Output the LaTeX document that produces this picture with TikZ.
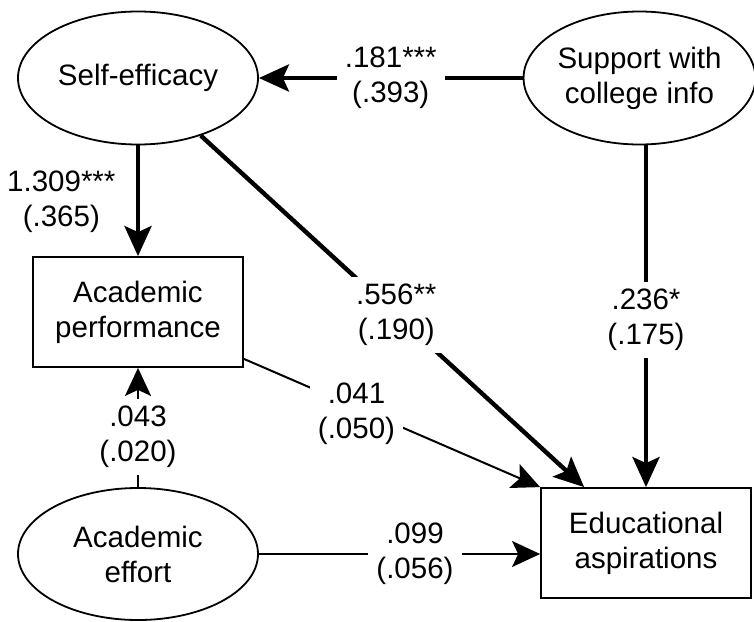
\documentclass[tikz,border=0pt]{standalone}
\usepackage{fontspec}
\setmainfont{Liberation Sans}
\usetikzlibrary{arrows.meta,shapes.geometric,calc}
\begin{document}
\begin{tikzpicture}[x=1pt,y=-1pt,
  every node/.style={font=\fontsize{29.5}{35}\selectfont},
  latent/.style={ellipse, draw, line width=1.8pt, inner sep=0pt, align=center,
    minimum width=240pt, minimum height=133pt},
  observed/.style={rectangle, draw, line width=1.8pt, inner sep=0pt, align=center,
    minimum width=210pt, minimum height=110pt},
  strong/.style={line width=4.4pt, -{Stealth[length=30pt,width=27pt,inset=6pt]}},
  weak/.style={line width=2pt, -{Stealth[length=28pt,width=26pt,inset=6pt]}},
  coef/.style={fill=white, align=center, inner xsep=8pt, inner ysep=7pt},
]
\useasboundingbox (0,0) rectangle (754,621);

% variables
\node[latent] (se) at (138,78) {Self-efficacy};
\node[latent, minimum width=227pt] (sup) at (639.5,78) {Support with\\college info};
\node[observed] (perf) at (138,312) {Academic\\performance};
\node[latent, minimum height=132pt] (eff) at (138,554) {Academic\\effort};
\node[observed] (edu) at (646,543) {Educational\\aspirations};

% paths with coefficients (standard errors)
\draw[strong] (sup.west) -- node[coef, pos=0.5] {.181***\\(.393)} (se.east);
\draw[strong] (se.south) -- node[pos=0.51, anchor=east, align=center, xshift=-17pt] {1.309***\\(.365)} (perf.north);
\draw[strong] (se) -- node[coef, pos=0.51] {.556**\\(.190)} ($(edu.north west)+(44,0)$);
\draw[strong] (edu.north |- sup.south) -- node[coef, pos=0.51] {.236*\\(.175)} (edu.north);
\draw[weak] ($(perf.south east)+(0,-9)$) -- node[coef, pos=0.38, yshift=-6pt] {.041\\(.050)} (edu.north west);
\draw[weak] (eff.north) -- node[coef, pos=0.42] {.043\\(.020)} (perf.south);
\draw[weak] (eff.east) -- node[coef, pos=0.555] {.099\\(.056)} (eff.east -| edu.west);
\end{tikzpicture}
\end{document}
